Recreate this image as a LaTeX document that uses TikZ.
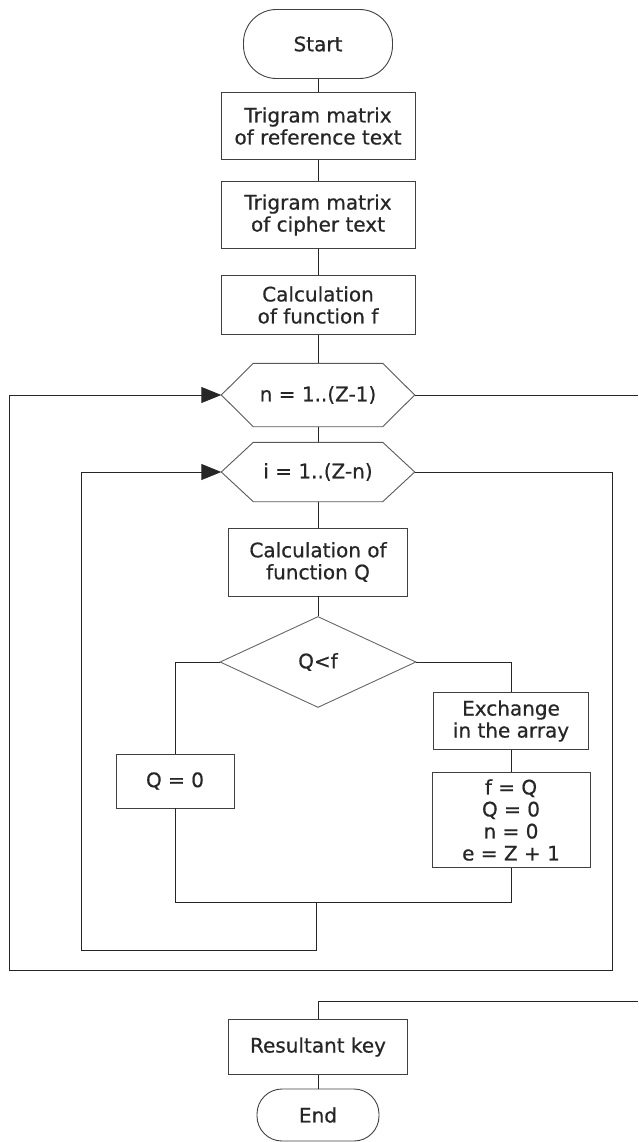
\documentclass[tikz,border=0pt]{standalone}
\usepackage{fontspec}
\setmainfont{DejaVu Sans}[FakeBold=0.6]
\usepackage{pgf,tikz}
\usetikzlibrary{arrows.meta,shapes.geometric}

\tikzset{
  box/.style={draw=black!75,line width=0.9pt,rectangle,align=center,inner sep=0pt,text=black!85,font=\fontsize{20}{22}\selectfont},
  term/.style={box},
  loophead/.style={rectangle,align=center,inner sep=0pt,text=black!85,font=\fontsize{20}{22}\selectfont},
  test/.style={box,diamond,draw=black!60},
  wire/.style={draw=black!85,line width=0.9pt}
}
\newcommand{\hexframe}[1]{\draw[draw=black!65,line width=0.9pt] (#1.west) -- ([xshift=32pt]#1.north west) -- ([xshift=-32pt]#1.north east) -- (#1.east) -- ([xshift=-32pt]#1.south east) -- ([xshift=32pt]#1.south west) -- cycle;}

\begin{document}
\begin{tikzpicture}[x=1pt,y=-1pt,>={Triangle[length=20pt,width=16pt]}]
\useasboundingbox (0,0) rectangle (638,1142);
\node[term,rounded corners=33pt,minimum width=149pt,minimum height=69pt] (start) at (318,44) {Start};
\node[box,minimum width=194pt,minimum height=67pt] (refmat) at (318,126) {Trigram matrix\\of reference text};
\node[box,minimum width=194pt,minimum height=67pt] (ciphmat) at (318,215) {Trigram matrix\\of cipher text};
\node[box,minimum width=194pt,minimum height=59pt] (calcf) at (318,305) {Calculation\\of function f};
\node[loophead,minimum width=193pt,minimum height=63pt] (loopn) at (318,395) {n = 1..(Z-1)};
\node[loophead,minimum width=193pt,minimum height=59pt] (loopi) at (318,472) {i = 1..(Z-n)};
\node[box,minimum width=179pt,minimum height=68pt] (calcq) at (318,562) {Calculation of\\function Q};
\node[test,minimum width=196pt,minimum height=91pt] (cmp) at (318,662) {Q<f};
\node[box,minimum width=118pt,minimum height=54pt] (qzero) at (175,781) {Q = 0};
\node[box,minimum width=155pt,minimum height=57pt] (swap) at (511,721) {Exchange\\in the array};
\node[box,minimum width=158pt,minimum height=95pt] (assign) at (511,820) {f = Q\\Q = 0\\n = 0\\e = Z + 1};
\node[box,minimum width=179pt,minimum height=55pt] (key) at (318,1047) {Resultant key};
\node[term,rounded corners=25pt,minimum width=122pt,minimum height=52pt] (end) at (318,1115) {End};
\hexframe{loopn}
\hexframe{loopi}
\coordinate (join) at (316,902);
\coordinate (innerleft) at (81,950);
\coordinate (outerright) at (612,970);
\coordinate (outerleft) at (9,970);
\coordinate (exitn) at (638,395);
\coordinate (entrykey) at (638,1001);
\draw[wire] (start) -- (refmat);
\draw[wire] (refmat) -- (ciphmat);
\draw[wire] (ciphmat) -- (calcf);
\draw[wire] (calcf) -- (loopn);
\draw[wire] (loopn) -- (loopi);
\draw[wire] (loopi) -- (calcq);
\draw[wire] (calcq) -- (cmp);
\draw[wire] (cmp.west) -| (qzero.north);
\draw[wire] (cmp.east) -| (swap.north);
\draw[wire] (swap) -- (assign);
\draw[wire] (qzero.south) |- (join);
\draw[wire] (assign.south) |- (join);
\draw[wire,->] (join) |- (innerleft) |- (loopi.west);
\draw[wire,->] (loopi.east) -| (outerright) -- (outerleft) |- (loopn.west);
\draw[wire] (loopn.east) -- (exitn);
\draw[wire] (entrykey) -| (key.north);
\draw[wire] (key) -- (end);
\end{tikzpicture}
\end{document}
